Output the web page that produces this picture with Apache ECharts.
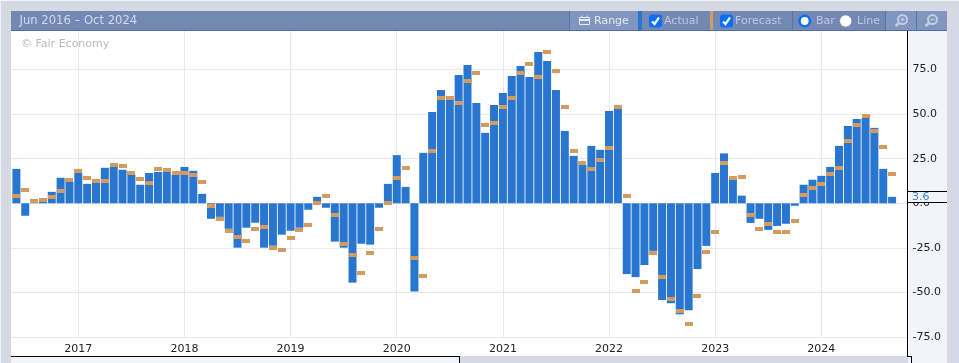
<!DOCTYPE html>
<html><head><meta charset="utf-8">
<style>html,body{margin:0;padding:0;background:#fff}#c{width:959px;height:363px}</style>
<script src="https://cdn.jsdelivr.net/npm/echarts@6/dist/echarts.min.js"></script>
</head><body><div id="c"></div>
<script>
const months = [
 '2016-06','2016-07','2016-08','2016-09','2016-10','2016-11','2016-12',
 '2017-01','2017-02','2017-03','2017-04','2017-05','2017-06','2017-07','2017-08','2017-09','2017-10','2017-11','2017-12',
 '2018-01','2018-02','2018-03','2018-04','2018-05','2018-06','2018-07','2018-08','2018-09','2018-10','2018-11','2018-12',
 '2019-01','2019-02','2019-03','2019-04','2019-05','2019-06','2019-07','2019-08','2019-09','2019-10','2019-11','2019-12',
 '2020-01','2020-02','2020-03','2020-04','2020-05','2020-06','2020-07','2020-08','2020-09','2020-10','2020-11','2020-12',
 '2021-01','2021-02','2021-03','2021-04','2021-05','2021-06','2021-07','2021-08','2021-09','2021-10','2021-11','2021-12',
 '2022-01','2022-02','2022-03','2022-04','2022-05','2022-06','2022-07','2022-08','2022-09','2022-10','2022-11','2022-12',
 '2023-01','2023-02','2023-03','2023-04','2023-05','2023-06','2023-07','2023-08','2023-09','2023-10','2023-11','2023-12',
 '2024-01','2024-02','2024-03','2024-04','2024-05','2024-06','2024-07','2024-08','2024-09'];
const actual = [
 19.3,-7,0.5,0.9,6.4,14.3,12,
 17,10.9,11.5,19.9,20.4,18.8,16,10.4,17,17.6,17.6,16,
 20.4,18.2,5.3,-8.7,-7.6,-14.3,-24.9,-13.7,-10.9,-24.9,-23.8,-17.6,
 -15.4,-13.7,-3.6,3.6,-2.5,-21.5,-24.9,-44.5,-22.7,-23.2,-2.5,10.9,
 27,9.2,-49.5,28.3,51.2,63.5,57.9,71.9,77.5,56.2,39.5,55.1,
 61.8,71.4,77,70.8,84.8,79.8,63.5,40.6,26.6,21.5,32.2,30,
 51.8,52.9,-39.7,-41.4,-34.6,-26.7,-54.3,-56,-62.2,-60,-36.9,-23.9,
 17,28,13.7,4.3,-11,-8.7,-14.9,-12.7,-11.5,-1.4,10.4,13.2,
 15.4,20.4,32.2,43.4,47.3,47.9,42.3,19.3,3.6];
const forecast = [
 4.2,7.6,1.4,2,3.6,7,13.2,
 18.2,14.3,12.6,12.6,21.5,21,17,13.7,11.5,19.3,18.8,17,
 17,15.6,12,-1.4,-8.7,-15.4,-18.7,-21,-14.3,-13.2,-24.9,-26,
 -19.3,-14.8,-12,0.3,4.2,-6.4,-22.7,-28.8,-38.9,-27.7,-14.3,0.3,
 14.3,19.7,-30.5,-40.6,29.4,59,59,56.2,68.6,73,43.9,45,
 54,59,73,78,70.8,84.8,74,54,29.4,22.7,19.3,24.3,
 31,54,4.2,-49.2,-44.2,-27.9,-41.4,-53.7,-60.5,-67.8,-52,-27.3,
 -16,22.7,14.3,15,-6.5,-14.3,-11.5,-16,-16,-9.8,4.4,8.7,
 10.9,16.5,20,35,44,49,40.6,31.6,16.5];
const yearLabels = ['2017','2018','2019','2020','2021','2022','2023','2024'];
const periodLabel = 'Jun 2016 \u2013 Oct 2024';
const FONT = '"DejaVu Sans", sans-serif';

const yearIdx = yearLabels.map(y => months.indexOf(y + '-01'));
const lastActual = actual[actual.length - 1];
const GREY = '#d5d9e3', PANEL = '#f3f4f9', BAR = '#2876d0', ORG = '#d39c5e', GRID = '#e8e8f2';
const TB = '#7389b4', TBL = '#8096be', TBLINE = '#5674ab', CHK = '#0b6dfb', TXT = '#bcc7de';

function rect(x, y, w, h, fill, z, r) {
  return {type:'rect', z:z, silent:true, shape:{x, y, width:w, height:h, r:r||0}, style:{fill}};
}
function seg(x1, y1, x2, y2, stroke, lw, z) {
  return {type:'line', z:z, silent:true, shape:{x1, y1, x2, y2}, style:{stroke, lineWidth:lw||1, fill:null}};
}
function txt(x, y, text, fill, z, size) {
  return {type:'text', z:z, silent:true, x, y, style:{text, fill, font:(size||11) + 'px ' + FONT, textVerticalAlign:'middle', textBaseline:'middle'}};
}
function checkbox(x) {
  return [rect(x, 14.5, 13, 13, CHK, 102, 3),
    {type:'polyline', z:103, silent:true, shape:{points:[[x+3,21.5],[x+5.5,24],[x+10,17.5]]},
     style:{stroke:'#fff', lineWidth:2.2, fill:null}}];
}
function magnifier(cx, plus) {
  const c = '#c3cde2';
  const els = [
    {type:'circle', z:103, silent:true, shape:{cx:cx+1.5, cy:19.5, r:4.5}, style:{stroke:c, lineWidth:2, fill:null}},
    seg(cx-2, 23, cx-5.5, 26, c, 2.6, 103),
    seg(cx-0.5, 19.5, cx+3.5, 19.5, c, 1.4, 103)];
  if (plus) els.push(seg(cx+1.5, 17.5, cx+1.5, 21.5, c, 1.4, 103));
  return els;
}
const graphicEls = [
  rect(0, 0, 959, 1, '#f2f3f6', -3),
  rect(0, 0, 1, 363, '#f2f3f6', -3),
  rect(11, 31, 897, 325, '#ffffff', -2),
  rect(908, 31, 39, 332, PANEL, -2),
  rect(11, 357, 448, 6, PANEL, -2),
  seg(11, 356.5, 459.5, 356.5, '#000', 1, 90),
  seg(459.5, 356, 459.5, 363, '#000', 1, 90),
  seg(907.5, 31, 907.5, 356.5, '#000', 1, 90),
  seg(907, 356.5, 912, 356.5, '#000', 1, 90),
  seg(911.5, 356, 911.5, 363, '#000', 1, 90),
  rect(11, 11, 936, 20, TB, 100),
  rect(11, 30, 936, 1, '#4a6dad', 101),
  txt(19.5, 21, periodLabel, '#d3daea', 102, 11.6),
  txt(21, 44.5, '\u00a9 Fair Economy', '#b9b9b9', 3),
  rect(570, 11, 68, 19, TBL, 101),
  seg(569.5, 11, 569.5, 30, TBLINE, 1, 102),
  rect(638, 11, 4, 19, BAR, 102),
  rect(710, 11, 3, 19, ORG, 102),
  seg(792.5, 11, 792.5, 30, TBLINE, 1, 102),
  rect(886, 11, 30, 19, TBL, 101),
  rect(917, 11, 30, 19, TBL, 101),
  seg(885.5, 11, 885.5, 30, TBLINE, 1, 102),
  seg(916.5, 11, 916.5, 30, TBLINE, 1, 102),
  // calendar icon of the Range button
  {type:'rect', z:103, silent:true, shape:{x:579.5, y:17.5, width:10, height:7}, style:{stroke:'#e6eaf3', lineWidth:1, fill:null}},
  rect(579, 19, 11, 2, '#e6eaf3', 103),
  seg(582, 15.5, 582, 18, '#e6eaf3', 1, 103),
  seg(587, 15.5, 587, 18, '#e6eaf3', 1, 103),
  txt(594, 21, 'Range', '#e3e8f2', 102),
  ...checkbox(649),
  txt(664, 21, 'Actual', TXT, 102),
  ...checkbox(720),
  txt(735, 21, 'Forecast', TXT, 102),
  {type:'circle', z:103, silent:true, shape:{cx:804.7, cy:21, r:5.2}, style:{fill:'#fff', stroke:CHK, lineWidth:2.6}},
  txt(816, 21, 'Bar', TXT, 102),
  {type:'circle', z:103, silent:true, shape:{cx:845.7, cy:21, r:6}, style:{fill:'#fff', stroke:'#8c8c8c', lineWidth:0.6}},
  txt(857, 21, 'Line', TXT, 102),
  ...magnifier(901, true),
  ...magnifier(931, false)
];

const chart = echarts.init(document.getElementById('c'), null, {renderer:'canvas'});
chart.setOption({
  animation:false,
  backgroundColor:GREY,
  textStyle:{fontFamily:FONT},
  graphic:{elements:graphicEls},
  grid:{left:11, right:51, top:25, bottom:26, containLabel:false},
  xAxis:{type:'value', min:-0.61, max:100.8,
    axisLine:{show:false},
    axisTick:{show:false, customValues:yearIdx},
    splitLine:{show:true, lineStyle:{color:GRID, width:1}},
    axisLabel:{customValues:yearIdx, color:'#222', fontSize:11, fontFamily:FONT, margin:7,
      formatter:v => months[v].slice(0,4)}},
  yAxis:{type:'value', position:'right', min:-75, max:100, interval:25,
    axisLine:{show:false}, axisTick:{show:false},
    splitLine:{show:true, lineStyle:{color:GRID, width:1}},
    axisLabel:{color:'#222', fontSize:11, fontFamily:FONT, margin:4.5, align:'left', showMaxLabel:false,
      formatter:v => v.toFixed(1)}},
  series:[
    {name:'Actual', type:'bar', barWidth:8, itemStyle:{color:BAR}, z:3,
     data:actual.map((v,i)=>[i,v])},
    {name:'Forecast', type:'custom', z:4, silent:true,
     encode:{x:0, y:1},
     data:forecast.map((v,i)=>[i,v]),
     renderItem:(p, api) => {
       const pt = api.coord([api.value(0), api.value(1)]);
       return {type:'rect', shape:{x:Math.round(pt[0]-4), y:Math.round(pt[1]-2), width:8, height:4}, style:{fill:ORG}};
     }},
    {name:'Latest', type:'custom', z:20, clip:false, silent:true,
     data:[[100.8, lastActual]],
     renderItem:(p, api) => {
       const pt = api.coord([api.value(0), api.value(1)]);
       const top = Math.round(pt[1]) - 6;
       return {type:'group', children:[
         {type:'rect', shape:{x:908, y:top, width:39, height:11}, style:{fill:PANEL}},
         {type:'line', shape:{x1:907, y1:top+0.5, x2:947, y2:top+0.5}, style:{stroke:'#000', lineWidth:1}},
         {type:'line', shape:{x1:907, y1:top+11.5, x2:947, y2:top+11.5}, style:{stroke:'#000', lineWidth:1}},
         {type:'text', x:912, y:top+6, style:{text:lastActual.toFixed(1), fill:'#3f7fd6', font:'11px '+FONT, textBaseline:'middle', textVerticalAlign:'middle'}}
       ]};
     }}
  ]
});
</script></body></html>
